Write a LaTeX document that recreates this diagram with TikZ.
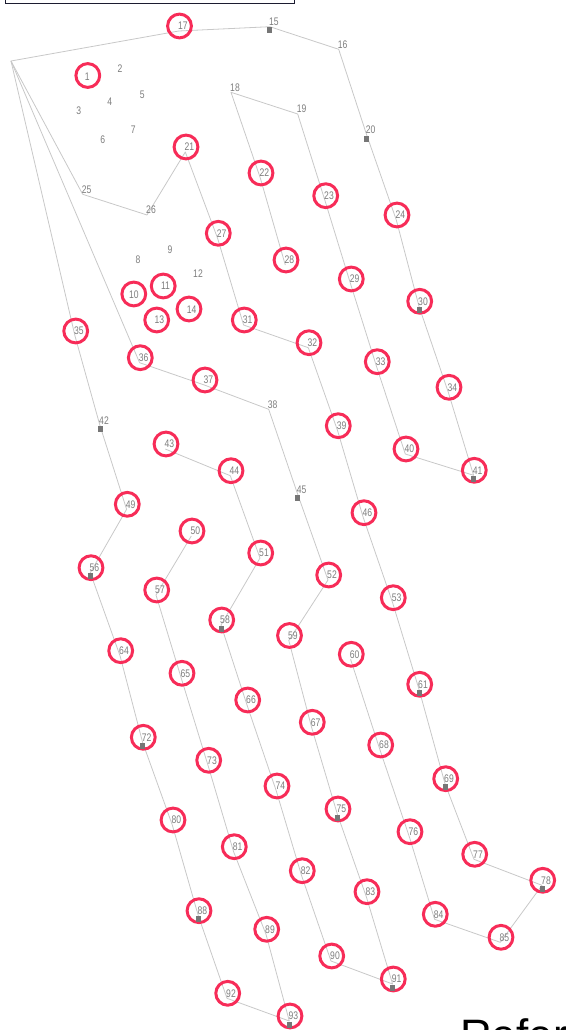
\documentclass[tikz,border=0pt]{standalone}
\usepackage{fontspec}
\usetikzlibrary{calc}
\newfontfamily\labfont[FakeStretch=0.78]{Liberation Sans}
\newfontfamily\capfont{Liberation Sans}
\definecolor{ringc}{RGB}{247,44,88}
\definecolor{labc}{RGB}{125,125,125}
\definecolor{edgec}{RGB}{200,200,200}
\definecolor{sqc}{RGB}{118,118,118}
\definecolor{boxc}{RGB}{28,28,48}
\pgfdeclarelayer{bg}
\pgfsetlayers{bg,main}
\tikzset{
  ring/.style={circle,draw=ringc,line width=3pt,minimum size=23.8pt,inner sep=0pt},
  lab/.style={font=\labfont\fontsize{11}{11}\selectfont,text=labc,inner sep=0pt},
  sq/.style={rectangle,fill=sqc,minimum width=5pt,minimum height=6pt,inner sep=0pt},
  edge/.style={draw=edgec,line width=0.8pt,line join=round},
}
% circled node on a chain: name, circle centre x, y
\newcommand\cnode[3]{%
  \coordinate (v#1) at (#2-0.7,#3+5);
  \node[ring] (c#1) at (#2,#3) {};
  \node[lab] (l#1) at (#2+3.3,#3) {#1};}
% plain label on a chain: name, label centre x, y
\newcommand\pnode[3]{%
  \coordinate (v#1) at (#2-4,#3+5);
  \node[lab] (l#1) at (#2,#3) {#1};}
% grey square marker below a vertex
\newcommand\sqmark[1]{\node[sq] (s#1) at ($(v#1)+(0,3.7)$) {};}
\begin{document}
\begin{tikzpicture}[x=1pt,y=-1pt]
\useasboundingbox (0,0) rectangle (565,1030);
\clip (0,0) rectangle (565,1030);
% frame at the top
\draw[boxc,line width=1pt] (5.7,-20) rectangle (294.3,3.3);
\coordinate (hub) at (11,61);
% plain vertices
\pnode{15}{273.8}{21.7}
\pnode{16}{342.7}{44.3}
\pnode{18}{235}{87.3}
\pnode{19}{301.7}{109}
\pnode{20}{370.7}{130}
\pnode{25}{86.7}{189.3}
\pnode{26}{151}{210}
\pnode{38}{272.7}{404.3}
\pnode{42}{104}{420.7}
\pnode{45}{301.7}{489.3}
% circled vertices
\cnode{17}{179.5}{26}
\cnode{21}{186}{147}
\cnode{22}{261}{173}
\cnode{23}{325.7}{195.7}
\cnode{24}{397}{215}
\cnode{27}{218.3}{233.3}
\cnode{28}{286}{260}
\cnode{29}{351.3}{279}
\cnode{30}{419.7}{301.3}
\cnode{31}{244.3}{320}
\cnode{32}{309}{342.7}
\cnode{33}{377.3}{361.7}
\cnode{34}{449}{387.3}
\cnode{35}{75.7}{331}
\cnode{36}{140.3}{357.7}
\cnode{37}{205}{380}
\cnode{39}{338.3}{425.7}
\cnode{40}{406}{449}
\cnode{41}{474.3}{470.3}
\cnode{43}{166}{444}
\cnode{44}{231}{470.7}
\cnode{46}{364}{512.7}
\cnode{49}{127.3}{504.3}
\cnode{50}{192}{531}
\cnode{51}{260.7}{553}
\cnode{52}{328.7}{575}
\cnode{53}{393.3}{597.7}
\cnode{56}{91}{567.7}
\cnode{57}{156.7}{590}
\cnode{58}{221.7}{620}
\cnode{59}{289.5}{635.5}
\cnode{60}{351.3}{654.3}
\cnode{61}{419.7}{684.3}
\cnode{64}{120.7}{650.7}
\cnode{65}{182}{673.3}
\cnode{66}{247.7}{700}
\cnode{67}{312.3}{722.3}
\cnode{68}{380.7}{745}
\cnode{69}{445.7}{778.7}
\cnode{72}{143.3}{737.3}
\cnode{73}{208.7}{760.3}
\cnode{74}{277}{786}
\cnode{75}{338}{809}
\cnode{76}{410}{831.7}
\cnode{77}{474.7}{854.3}
\cnode{78}{542.7}{880.3}
\cnode{80}{173}{820}
\cnode{81}{234.3}{846.7}
\cnode{82}{302.3}{870.7}
\cnode{83}{367}{891.7}
\cnode{84}{435.3}{914.3}
\cnode{85}{501}{937.3}
\cnode{88}{199}{910.7}
\cnode{89}{266.7}{929.3}
\cnode{90}{331.7}{956}
\cnode{91}{393.3}{979}
\cnode{92}{227.7}{993.3}
\cnode{93}{290}{1016}
% square markers
\foreach \n in {15,20,30,41,42,45,56,58,61,69,72,75,78,88,91,93}{\sqmark{\n}}
% isolated circled nodes
\node[ring] (c1) at (87.8,75.5) {};   \node[lab] (l1) at (87.3,76.7) {1};
\node[ring] (c10) at (133.8,294) {};  \node[lab] (l10) at (133.8,295) {10};
\node[ring] (c11) at (163.2,286) {};  \node[lab] (l11) at (165.5,285.3) {11};
\node[ring] (c13) at (156.7,320) {};  \node[lab] (l13) at (159.3,320) {13};
\node[ring] (c14) at (189,309) {};    \node[lab] (l14) at (191.7,310) {14};
% isolated plain labels
\node[lab] (l2) at (120,68.3) {2};
\node[lab] (l3) at (78.7,110.7) {3};
\node[lab] (l4) at (109.7,101.7) {4};
\node[lab] (l5) at (142.3,95) {5};
\node[lab] (l6) at (102.7,139.3) {6};
\node[lab] (l7) at (133.3,129.3) {7};
\node[lab] (l8) at (138,260) {8};
\node[lab] (l9) at (170,249.3) {9};
\node[lab] (l12) at (198,273.3) {12};
% connectors
\begin{pgfonlayer}{bg}
\draw[edge] (v17) -- (hub) -- (v25);
\draw[edge] (hub) -- (v36);
\draw[edge] (hub) -- (v35);
\draw[edge] (v17) -- (v15) -- (v16) -- (v20) -- (v24) -- (v30) -- (v34) -- (v41)
  -- (v40) -- (v33) -- (v29) -- (v23) -- (v19) -- (v18) -- (v22) -- (v28);
\draw[edge] (v25) -- (v26) -- (v21) -- (v27) -- (v31) -- (v32) -- (v39) -- (v46)
  -- (v53) -- (v61) -- (v69) -- (v77) -- (v78) -- (v85) -- (v84) -- (v76) -- (v68) -- (v60);
\draw[edge] (v36) -- (v37) -- (v38) -- (v45) -- (v52) -- (v59) -- (v67) -- (v75)
  -- (v83) -- (v91) -- (v90) -- (v82) -- (v74) -- (v66) -- (v58) -- (v51) -- (v44) -- (v43);
\draw[edge] (v35) -- (v42) -- (v49) -- (v56) -- (v64) -- (v72) -- (v80) -- (v88)
  -- (v92) -- (v93) -- (v89) -- (v81) -- (v73) -- (v65) -- (v57) -- (v50);
\end{pgfonlayer}
% caption, cut by the bottom edge
\node[font=\capfont\fontsize{44}{44}\selectfont,anchor=base west,inner sep=0pt] (cap) at (460,1050.8) {Reference};
\end{tikzpicture}
\end{document}
